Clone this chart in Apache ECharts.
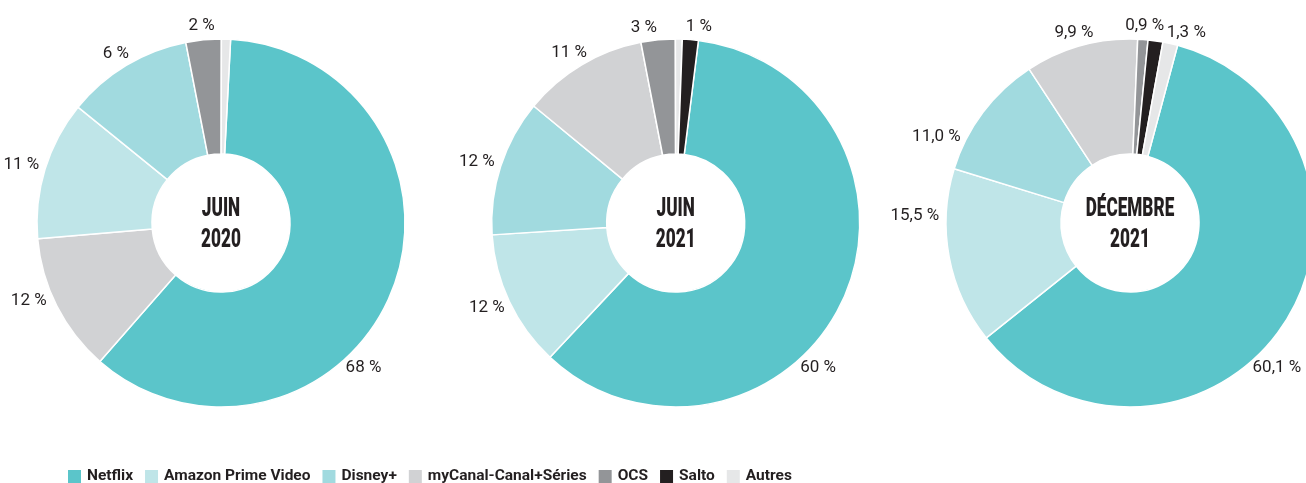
<!DOCTYPE html>
<html>
<head>
<meta charset="utf-8">
<script src="https://cdn.jsdelivr.net/npm/echarts@6/dist/echarts.min.js"></script>
<style>
html,body{margin:0;padding:0;background:#ffffff;}
#chart{width:1306px;height:483px;}
</style>
</head>
<body>
<div id="chart"></div>
<script>
// ---------- DATA ----------
const categories = ['Netflix', 'Amazon Prime Video', 'Disney+', 'myCanal-Canal+Séries', 'OCS', 'Salto', 'Autres'];
const periodTitles = ['JUIN\n2020', 'JUIN\n2021', 'DÉCEMBRE\n2021'];

// slices, in clockwise order starting with Netflix (shares)
const names2020  = ['Netflix', 'myCanal-Canal+Séries', 'Amazon Prime Video', 'Disney+', 'OCS', 'Autres'];
const values2020 = [60.6, 12.2, 12.2, 11.1, 3.1, 0.8];
const labels2020 = ['68 %', '12 %', '11 %', '6 %', '2 %', ''];

const names2021  = ['Netflix', 'Amazon Prime Video', 'Disney+', 'myCanal-Canal+Séries', 'OCS', 'Autres', 'Salto'];
const values2021 = [60, 12, 12, 11, 3, 0.6, 1.4];
const labels2021 = ['60 %', '12 %', '12 %', '11 %', '3 %', '', '1 %'];

const namesDec2021  = ['Netflix', 'Amazon Prime Video', 'Disney+', 'myCanal-Canal+Séries', 'OCS', 'Salto', 'Autres'];
const valuesDec2021 = [60.1, 15.5, 11.0, 9.9, 0.9, 1.3, 1.3];
const labelsDec2021 = ['60,1 %', '15,5 %', '11,0 %', '9,9 %', '0,9 %', '1,3 %', ''];

// ---------- STYLE / LAYOUT ----------
const colors = {
  'Netflix': '#5bc5ca',
  'Amazon Prime Video': '#bfe5e8',
  'Disney+': '#a1dadf',
  'myCanal-Canal+Séries': '#d1d2d4',
  'OCS': '#939598',
  'Salto': '#231f20',
  'Autres': '#e6e7e8'
};
const TEXT = '#231f20';
const FONT = "Roboto, 'Liberation Sans', sans-serif";
const centers = [[221, 223], [675.7, 223], [1130, 223]];
const innerR = 69, outerR = 184;
const firstSliceOffset = [3, 7.1, 15];        // clockwise degrees from 12 o'clock where Netflix begins
const labelGap = 7;
const labelFontSize = 17;
const labelAngleOverrides = [ {0: 137, 1: 247}, {0: 137, 4: 351, 6: 6.5}, {0: 137, 1: 272, 2: 296, 5: 15.5} ];

const pies = [
  {names: names2020, values: values2020, labels: labels2020},
  {names: names2021, values: values2021, labels: labels2021},
  {names: namesDec2021, values: valuesDec2021, labels: labelsDec2021}
];

// mid angles (clockwise from top, degrees) computed from the data
function labelAngle(si, di) {
  const ov = labelAngleOverrides[si];
  if (ov[di] != null) return ov[di];
  const vals = pies[si].values;
  const total = vals.reduce((a, b) => a + b, 0);
  let cum = 0;
  for (let i = 0; i < di; i++) cum += vals[i];
  return firstSliceOffset[si] + (cum + vals[di] / 2) / total * 360;
}

const series = pies.map((p, si) => ({
  type: 'pie',
  center: centers[si],
  radius: [innerR, outerR],
  startAngle: 90 - firstSliceOffset[si],
  clockwise: true,
  avoidLabelOverlap: false,
  animation: false,
  silent: true,
  itemStyle: {borderColor: '#ffffff', borderWidth: 1.5},
  label: {
    show: true,
    position: 'outside',
    color: TEXT,
    fontFamily: FONT,
    fontSize: labelFontSize,
    fontWeight: 'normal',
    formatter: (prm) => p.labels[prm.dataIndex]
  },
  labelLine: {show: false},
  labelLayout: (prm) => {
    const th = labelAngle(si, prm.dataIndex) * Math.PI / 180;
    const s = Math.sin(th), c = Math.cos(th);
    const R = outerR + labelGap;
    const w = prm.labelRect.width, h = labelFontSize * 0.8;
    return {
      x: centers[si][0] + R * s + (w / 2) * s,
      y: centers[si][1] - R * c - (h / 2) * c,
      align: 'center',
      verticalAlign: 'middle'
    };
  },
  data: p.names.map((n, i) => ({
    name: n,
    value: p.values[i],
    itemStyle: {color: colors[n]},
    label: {show: p.labels[i] !== ''}
  }))
}));

const chart = echarts.init(document.getElementById('chart'), null, {renderer: 'canvas'});
chart.setOption({
  backgroundColor: '#ffffff',
  animation: false,
  legend: {
    data: categories,
    left: 66,
    top: 468,
    padding: 0,
    itemWidth: 15,
    itemHeight: 15,
    itemGap: 10,
    icon: 'rect',
    selectedMode: false,
    textStyle: {color: TEXT, fontFamily: FONT, fontWeight: 'bold', fontSize: 15.5}
  },
  graphic: periodTitles.map((t, i) => ({
    type: 'text',
    x: centers[i][0],
    y: centers[i][1] + 2,
    scaleX: 0.66,
    silent: true,
    style: {
      text: t,
      fill: TEXT,
      fontFamily: 'Roboto, sans-serif',
      fontWeight: 900,
      fontSize: 26,
      lineHeight: 31,
      align: 'center',
      verticalAlign: 'middle'
    }
  })),
  series: series
});
</script>
</body>
</html>
